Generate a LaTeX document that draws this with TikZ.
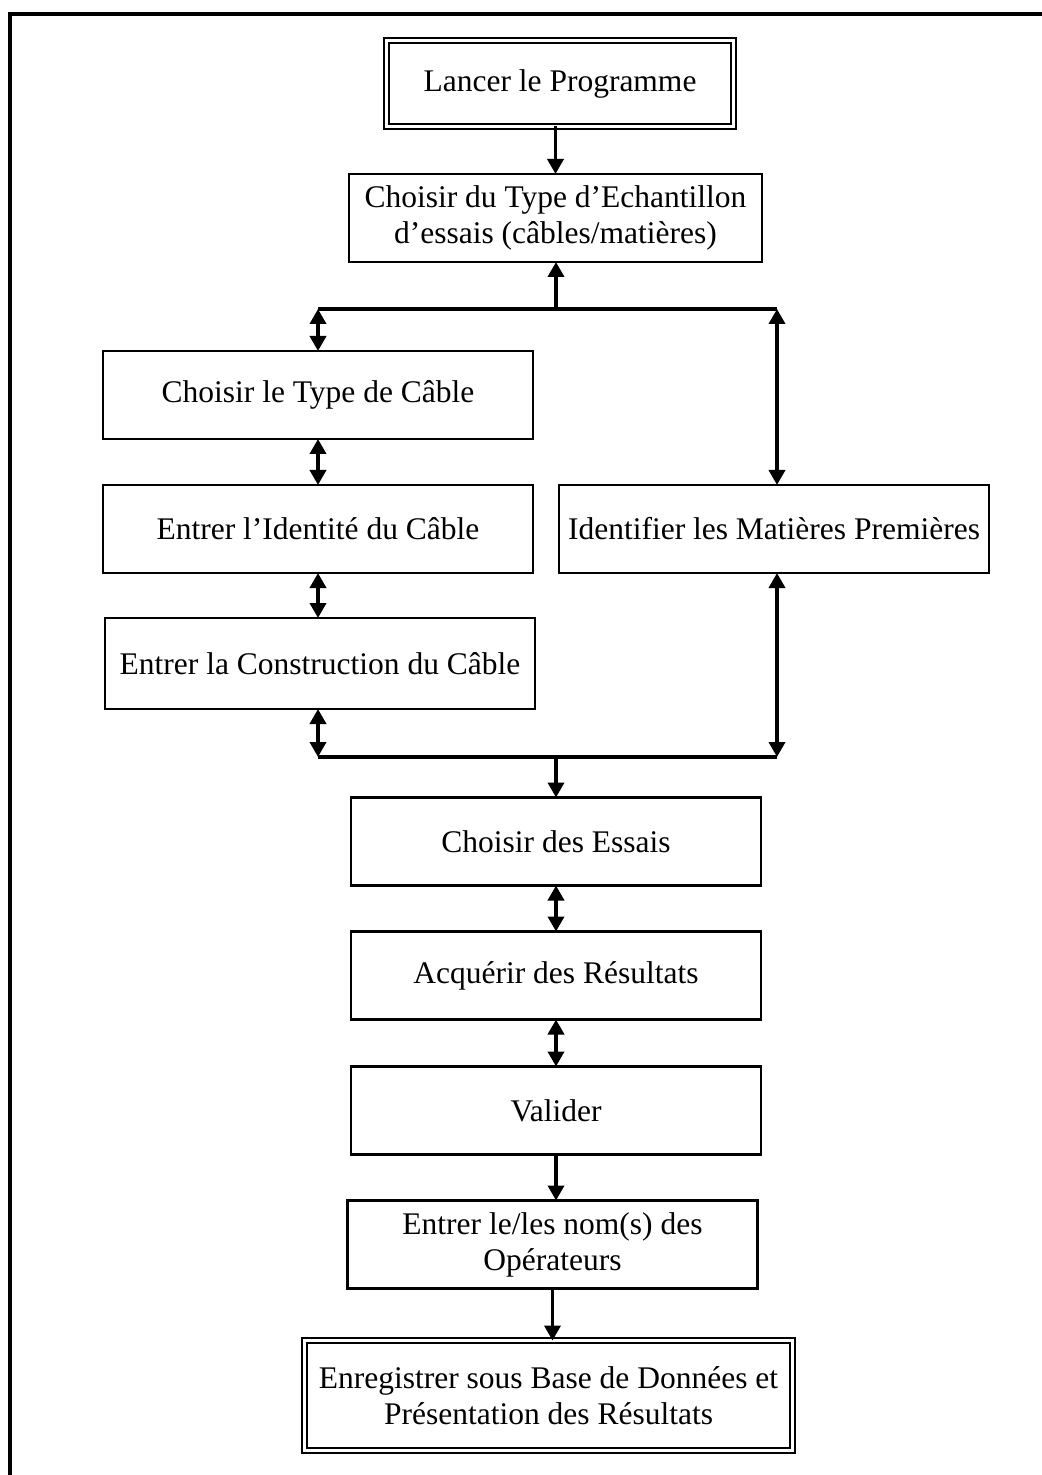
\documentclass[tikz,border=0pt]{standalone}
\usepackage{fontspec}
\setmainfont{Liberation Serif}
\usetikzlibrary{arrows.meta,positioning}

\begin{document}
\begin{tikzpicture}[
  x=0.5pt,y=-0.5pt,
  font=\fontsize{15.75}{18}\selectfont,
  box/.style={draw,line width=1.3pt,align=center,minimum height=44pt,minimum width=205pt,inner sep=0pt,outer sep=0pt,fill=white},
  wide/.style={box,minimum width=215pt},
  term/.style={box,double,line width=1pt,double distance=1.5pt},
  arrow/.style={-{Triangle[length=7.5pt,width=8pt]},line width=1.8pt},
  twoway/.style={{Triangle[length=7.5pt,width=8pt]}-{Triangle[length=7.5pt,width=8pt]},line width=1.8pt},
  bus/.style={line width=1.8pt}
]
\useasboundingbox (0,0) rectangle (1041,1475);
\draw[line width=1.75pt] (10,1480) -- (10,14) -- (1046,14);

% main column, top part
\node[term,minimum width=173.5pt,minimum height=43pt] (start) at (560,83.5) {Lancer le Programme};
\node[box,minimum width=206.5pt,below=23.75pt of start,xshift=-2.25pt] (sample) {Choisir du Type d’Echantillon\\d’essais (câbles/matières)};

% cable branch and raw material branch
\node[wide] (cabletype) at (318,395) {Choisir le Type de Câble};
\node[wide,below=23pt of cabletype] (cableid) {Entrer l’Identité du Câble};
\node[wide,minimum height=45.5pt,below=22.5pt of cableid,xshift=1pt] (cablecons) {Entrer la Construction du Câble};
\node[wide,right=13pt of cableid] (matieres) {Identifier les Matières Premières};

% main column, bottom part
\node[box] (essais) at (556,841.5) {Choisir des Essais};
\node[box,below=23pt of essais] (resultats) {Acquérir des Résultats};
\node[box,below=23.5pt of resultats] (valider) {Valider};
\node[box,below=23pt of valider,xshift=-1.75pt] (operateurs) {Entrer le/les nom(s) des\\Opérateurs};
\node[term,minimum width=244pt,minimum height=55pt,below=26pt of operateurs,xshift=-2pt] (final) {Enregistrer sous Base de Données et\\Présentation des Résultats};

\coordinate (topL) at (318,309);
\coordinate (topM) at (556,309);
\coordinate (topR) at (777,309);
\coordinate (botL) at (318,757);
\coordinate (botM) at (556,757);
\coordinate (botR) at (777,757);

\draw[arrow] (sample.north |- start.south) -- (sample.north);
\draw[bus] (topL) -- (topR);
\draw[arrow] (topM) -- (topM |- sample.south);
\draw[twoway] (topL) -- (cabletype.north);
\draw[twoway] (topR) -- (topR |- matieres.north);
\draw[twoway] (cabletype) -- (cableid);
\draw[twoway] (cableid.south) -- (cableid.south |- cablecons.north);
\draw[twoway] (botL |- cablecons.south) -- (botL);
\draw[twoway] (botR |- matieres.south) -- (botR);
\draw[bus] (botL) -- (botR);
\draw[arrow] (botM) -- (botM |- essais.north);
\draw[twoway] (essais) -- (resultats);
\draw[twoway] (resultats) -- (valider);
\draw[arrow] (valider.south) -- (valider.south |- operateurs.north);
\draw[arrow] (operateurs.south) -- (operateurs.south |- final.north);
\end{tikzpicture}
\end{document}
